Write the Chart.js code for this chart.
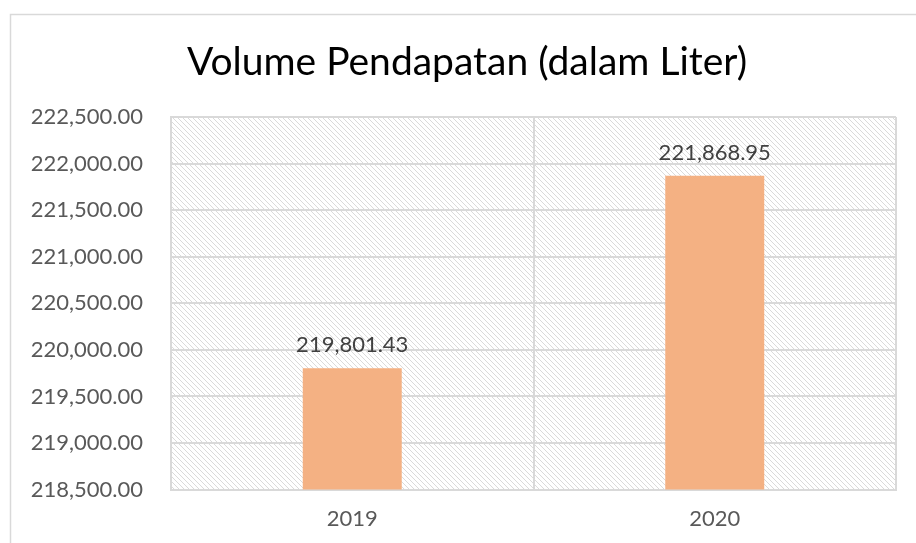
<!DOCTYPE html>
<html>
<head>
<meta charset="utf-8">
<script src="https://cdn.jsdelivr.net/npm/chart.js@4.4.1/dist/chart.umd.min.js"></script>
<style>
  html, body { margin: 0; padding: 0; background: #fff; }
  #wrap { width: 916px; height: 543px; position: relative; }
</style>
</head>
<body>
<div id="wrap"><canvas id="volume-chart" width="916" height="543"></canvas></div>
<script>
var chart_title = 'Volume Pendapatan (dalam Liter)';
var year_labels = ['2019', '2020'];
var volume_values = [219801.43, 221868.95];
var axis_min = 218500;
var axis_max = 222500;
var axis_step = 500;

function fmt(v) {
    return Number(v).toLocaleString('en-US', { minimumFractionDigits: 2, maximumFractionDigits: 2 });
}

// diagonal hatch used by the plot area
function makeHatch() {
    var c = document.createElement('canvas');
    c.width = 5; c.height = 5;
    var g = c.getContext('2d');
    g.fillStyle = '#ffffff';
    g.fillRect(0, 0, 5, 5);
    g.strokeStyle = '#dadada';
    g.lineWidth = 1;
    g.beginPath();
    g.moveTo(-1, -1); g.lineTo(6, 6);
    g.moveTo(-6, -1); g.lineTo(1, 6);
    g.moveTo(4, -1); g.lineTo(11, 6);
    g.stroke();
    return g.createPattern(c, 'repeat');
}

var backdropPlugin = {
    id: 'backdrop',
    beforeDraw: function (chart) {
        var ctx = chart.ctx;
        var a = chart.chartArea;
        ctx.save();
        ctx.strokeStyle = '#d9d9d9';
        ctx.lineWidth = 1.5;
        ctx.strokeRect(10.5, 14.5, 930, 560);
        ctx.fillStyle = makeHatch();
        ctx.fillRect(a.left, a.top, a.right - a.left, a.bottom - a.top);
        // title sits a little right of the canvas centre, like the original
        ctx.font = '39px Lato';
        ctx.fillStyle = '#000000';
        ctx.textAlign = 'center';
        ctx.textBaseline = 'middle';
        ctx.fillText(chart_title, 467, 62);
        ctx.restore();
    }
};

var valueLabelPlugin = {
    id: 'valueLabels',
    afterDatasetsDraw: function (chart) {
        var ctx = chart.ctx;
        var meta = chart.getDatasetMeta(0);
        ctx.save();
        ctx.font = '22px Lato';
        ctx.fillStyle = '#404040';
        ctx.textAlign = 'center';
        ctx.textBaseline = 'bottom';
        meta.data.forEach(function (bar, i) {
            ctx.fillText(fmt(volume_values[i]), bar.x, bar.y - 12);
        });
        ctx.restore();
    }
};

var ctx = document.getElementById('volume-chart');
var VolumeChart = new Chart(ctx, {
    type: 'bar',
    data: {
        labels: year_labels,
        datasets: [{
            label: 'Volume',
            data: volume_values,
            backgroundColor: '#F4B183',
            borderWidth: 0,
            barPercentage: 0.273,
            categoryPercentage: 1
        }]
    },
    plugins: [backdropPlugin, valueLabelPlugin],
    options: {
        responsive: false,
        animation: false,
        layout: { padding: { left: 3, right: 20, top: 117, bottom: -5 } },
        plugins: {
            legend: { display: false },
            tooltip: { enabled: false },
            title: { display: false }
        },
        scales: {
            x: {
                grid: { color: '#d9d9d9', lineWidth: 2, offset: true, drawTicks: false },
                border: { color: '#d9d9d9', width: 2 },
                ticks: { color: '#595959', font: { family: 'Lato', size: 22 }, padding: 16 }
            },
            y: {
                min: axis_min,
                max: axis_max,
                afterFit: function (scale) { scale.width = 168; },
                grid: { color: '#d9d9d9', lineWidth: 2, drawTicks: false },
                border: { color: '#d9d9d9', width: 2 },
                ticks: {
                    stepSize: axis_step,
                    color: '#595959',
                    font: { family: 'Lato', size: 22 },
                    padding: 28,
                    callback: function (v) { return fmt(v); }
                }
            }
        }
    }
});
</script>
</body>
</html>
